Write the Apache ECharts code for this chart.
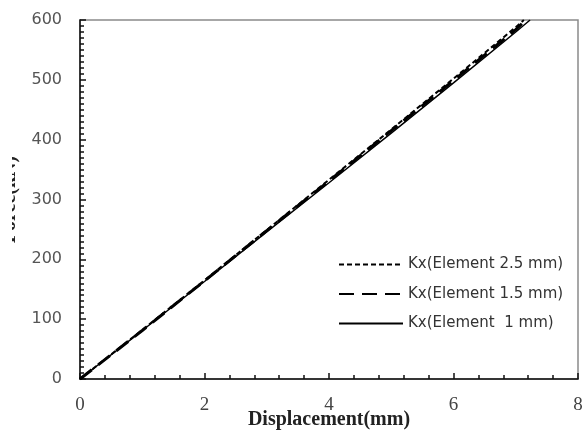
<!DOCTYPE html>
<html><head><meta charset="utf-8">
<script src="https://cdn.jsdelivr.net/npm/echarts@6/dist/echarts.min.js"></script>
<style>html,body{margin:0;padding:0;background:#fff}#c{width:582px;height:430px}</style>
</head><body><div id="c"></div>
<script>
const seriesNames = ['Kx(Element 2.5 mm)', 'Kx(Element 1.5 mm)', 'Kx(Element  1 mm)'];
const disp25 = [0, 1, 2, 3, 4, 5, 6, 7, 7.13];
const force25 = [0, 82, 165, 249, 333, 417, 502, 588, 600];
const disp15 = [0, 1, 2, 3, 4, 5, 6, 7, 7.16];
const force15 = [0, 81, 164, 248, 331, 415, 499, 584, 600];
const disp1 = [0, 1, 2, 3, 4, 5, 6, 7, 7.23];
const force1 = [0, 81, 163, 246, 328, 411, 495, 580, 600];
const xTicks = [0, 2, 4, 6, 8];
const yTicks = [0, 100, 200, 300, 400, 500, 600];

const pair = (xs, ys) => xs.map((x, i) => [x, ys[i]]);
const chart = echarts.init(document.getElementById('c'), null, {renderer: 'canvas'});
chart.setOption({
  animation: false,
  backgroundColor: '#fff',
  grid: {left: 80, right: 4, top: 20, bottom: 51, containLabel: false, outerBoundsMode: 'none',
         show: true, borderColor: '#8a8a8a', borderWidth: 1.5, backgroundColor: 'transparent'},
  legend: {
    orient: 'vertical', left: 333, top: 252, itemWidth: 64, itemHeight: 14, itemGap: 14.5,
    textStyle: {fontFamily: 'DejaVu Sans', fontSize: 15, color: '#333'},
    itemStyle: {opacity: 0},
    data: seriesNames
  },
  graphic: [{type: 'rect', left: 0, top: 140, shape: {width: 12, height: 120}, style: {fill: '#fff'}, z: 100, silent: true}],
  xAxis: {
    type: 'value', min: xTicks[0], max: xTicks[xTicks.length - 1], interval: 2,
    name: 'Displacement(mm)', nameLocation: 'middle', nameGap: 31, nameMoveOverlap: false,
    nameTextStyle: {fontFamily: 'Liberation Serif', fontWeight: 'bold', fontSize: 20, color: '#222'},
    axisLine: {show: true, lineStyle: {color: '#111', width: 1.5}},
    axisTick: {show: true, inside: true, length: 6, lineStyle: {color: '#111', width: 1.5}},
    minorTick: {show: true, splitNumber: 5, length: 4, lineStyle: {color: '#111', width: 1.5}},
    splitLine: {show: false},
    axisLabel: {margin: 17, fontFamily: 'Liberation Serif', fontSize: 19, color: '#444'}
  },
  yAxis: {
    type: 'value', min: yTicks[0], max: yTicks[yTicks.length - 1], interval: 100,
    name: 'Force(kN)', nameLocation: 'middle', nameGap: 60, nameRotate: 90, nameMoveOverlap: false,
    nameTextStyle: {fontFamily: 'Liberation Serif', fontWeight: 'bold', fontSize: 20, color: '#222'},
    axisLine: {show: true, lineStyle: {color: '#111', width: 1.5}},
    axisTick: {show: true, inside: true, length: 6, lineStyle: {color: '#111', width: 1.5}},
    minorTick: {show: true, splitNumber: 10, length: 4, lineStyle: {color: '#111', width: 1.5}},
    splitLine: {show: false},
    axisLabel: {margin: 18, fontFamily: 'DejaVu Sans', fontSize: 16, color: '#555'}
  },
  series: [
    {name: seriesNames[0], type: 'line', symbol: 'none', data: pair(disp25, force25),
     lineStyle: {color: '#000', width: 2, type: [5, 3]}, itemStyle: {color: '#000'}},
    {name: seriesNames[1], type: 'line', symbol: 'none', data: pair(disp15, force15),
     lineStyle: {color: '#000', width: 3, type: [15, 8]}, itemStyle: {color: '#000'}},
    {name: seriesNames[2], type: 'line', symbol: 'none', data: pair(disp1, force1),
     lineStyle: {color: '#000', width: 1.5, type: 'solid'}, itemStyle: {color: '#000'}}
  ]
});
</script></body></html>
